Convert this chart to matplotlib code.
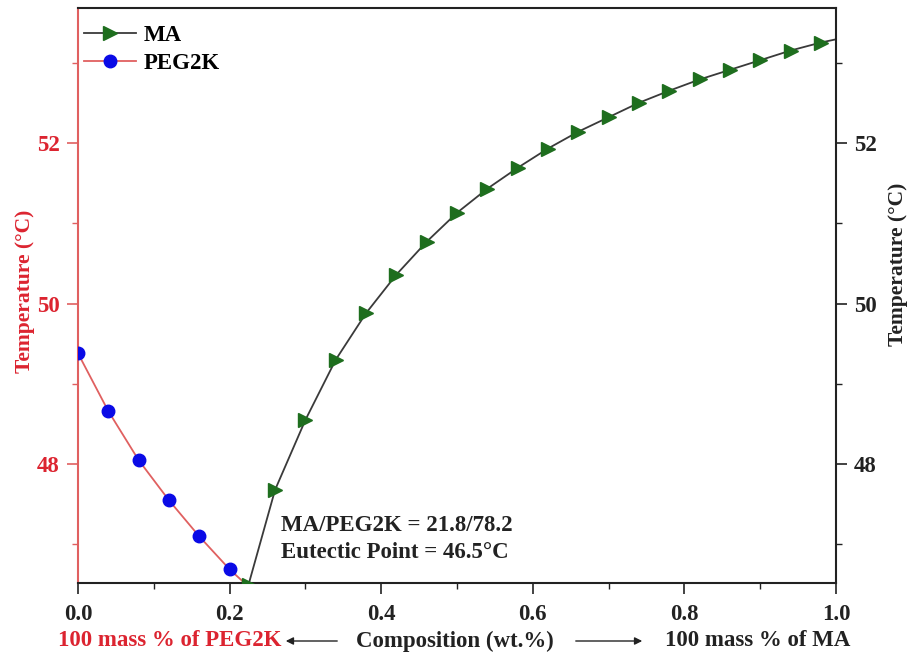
import matplotlib
matplotlib.use("Agg")
import matplotlib.pyplot as plt
from matplotlib.ticker import MultipleLocator, FormatStrFormatter
from matplotlib.patches import FancyArrowPatch

plt.rcParams['font.family'] = ['Liberation Serif', 'DejaVu Serif']
plt.rcParams['font.weight'] = 'bold'

peg_x = [0.0, 0.04, 0.08, 0.12, 0.16, 0.20]
peg_y = [49.38, 48.66, 48.05, 47.55, 47.10, 46.69]
peg_line_x = peg_x + [0.222]
peg_line_y = peg_y + [46.5]

ma_x = [0.225, 0.26, 0.30, 0.34, 0.38, 0.42, 0.46, 0.50, 0.54, 0.58, 0.62,
        0.66, 0.70, 0.74, 0.78, 0.82, 0.86, 0.90, 0.94, 0.98]
ma_y = [46.5, 47.68, 48.55, 49.30, 49.88, 50.36, 50.77, 51.13, 51.43, 51.69,
        51.93, 52.14, 52.32, 52.50, 52.65, 52.79, 52.91, 53.03, 53.15, 53.25]
ma_line_x = [0.222] + ma_x + [1.0]
ma_line_y = [46.5] + ma_y + [53.29]

red = '#dc2430'
line_red = '#e06060'
green = '#1e6e1e'
dark = '#222222'
fs = 16.5

fig = plt.figure(figsize=(9.09, 6.59), dpi=100)
ax = fig.add_axes([78/909, 1-583/659, (836-78)/909, (583-8)/659])

ax.plot(ma_line_x, ma_line_y, color='#3a3a3a', lw=1.3, zorder=2)
ax.plot(ma_x, ma_y, linestyle='none', marker='>', color=green, ms=10, zorder=3)
ax.plot(peg_line_x, peg_line_y, color=line_red, lw=1.3, zorder=2)
ax.plot(peg_x, peg_y, linestyle='none', marker='o', color='#0a0ae6', ms=9, zorder=3)

# legend proxies
h1, = ax.plot([], [], color='#3a3a3a', lw=1.3, marker='>', mfc=green, mec=green, ms=10)
h2, = ax.plot([], [], color=line_red, lw=1.3, marker='o', mfc='#0a0ae6', mec='#0a0ae6', ms=9)
ax.legend([h1, h2], ['MA', 'PEG2K'], loc='upper left', frameon=False, fontsize=fs,
          handlelength=2.3, borderaxespad=0.0, borderpad=0.25, handletextpad=0.3,
          labelspacing=0.3, bbox_to_anchor=(0.0, 0.98))

ax.set_xlim(0, 1.0)
ax.set_ylim(46.52, 53.68)
ax.xaxis.set_major_locator(MultipleLocator(0.2))
ax.xaxis.set_minor_locator(MultipleLocator(0.1))
ax.set_yticks([48, 50, 52])
ax.yaxis.set_minor_locator(MultipleLocator(1))

ax.tick_params(axis='both', which='major', direction='out', length=8, width=1.2, labelsize=fs)
ax.tick_params(axis='both', which='minor', direction='out', length=4, width=1.0)
ax.tick_params(axis='x', which='major', pad=7, colors=dark)
ax.tick_params(axis='x', which='minor', colors=dark)
ax.tick_params(axis='y', which='both', colors=line_red, labelcolor=red, pad=5)
ax.xaxis.set_major_formatter(FormatStrFormatter('%.1f'))

for s in ['top', 'right', 'bottom']:
    ax.spines[s].set_color(dark)
    ax.spines[s].set_linewidth(1.5)
ax.spines['left'].set_color(line_red)
ax.spines['left'].set_linewidth(1.5)

ax.set_ylabel('Temperature (°C)', color=red, fontsize=15.5, fontweight='bold')
ax.yaxis.set_label_coords(-0.057, 0.508)

ax2 = ax.twinx()
ax2.set_ylim(ax.get_ylim())
ax2.set_yticks([48, 50, 52])
ax2.yaxis.set_minor_locator(MultipleLocator(1))
ax2.tick_params(axis='y', which='major', direction='out', length=8, width=1.2, labelsize=fs, colors=dark, pad=5)
ax2.tick_params(axis='y', which='minor', direction='out', length=4, width=1.0, colors=dark)
ax2.set_ylabel('Temperature (°C)', color=dark, fontsize=15.5, fontweight='bold')
ax2.yaxis.set_label_coords(1.068, 0.555)
for s in ax2.spines.values():
    s.set_visible(False)

ax.text(0.268, 47.24, 'MA/PEG2K = 21.8/78.2', fontsize=fs, fontweight='bold', color=dark, va='center')
ax.text(0.268, 46.90, 'Eutectic Point = 46.5°C', fontsize=fs, fontweight='bold', color=dark, va='center')

yb = 1 - 641/659
fig.text(58/909, yb, '100 mass % of PEG2K', color=red, fontsize=fs, fontweight='bold', va='center', ha='left')
fig.text(455/909, yb, 'Composition (wt.%)', color=dark, fontsize=fs, fontweight='bold', va='center', ha='center')
fig.text(850/909, yb, '100 mass % of MA', color=dark, fontsize=fs, fontweight='bold', va='center', ha='right')
fig.patches.append(FancyArrowPatch((340/909, yb), (283/909, yb), transform=fig.transFigure,
                   arrowstyle='-|>', mutation_scale=11, color=dark, lw=1))
fig.patches.append(FancyArrowPatch((573/909, yb), (645/909, yb), transform=fig.transFigure,
                   arrowstyle='-|>', mutation_scale=11, color=dark, lw=1))

fig.savefig('out.png', dpi=100)
